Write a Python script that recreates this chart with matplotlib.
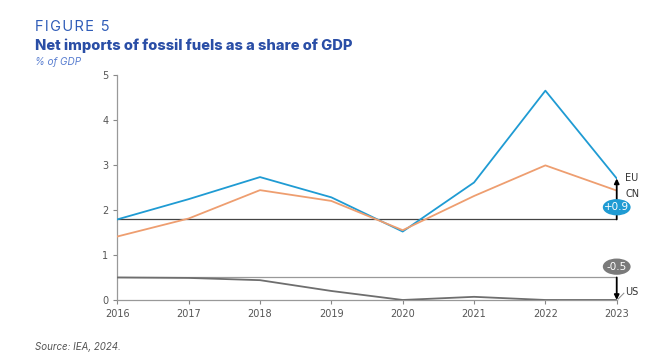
import matplotlib
matplotlib.use("Agg")
import matplotlib.pyplot as plt
from matplotlib.patches import Ellipse

years = [2016, 2017, 2018, 2019, 2020, 2021, 2022, 2023]
eu = [1.79, 2.24, 2.73, 2.28, 1.52, 2.61, 4.65, 2.70]
cn = [1.41, 1.81, 2.44, 2.20, 1.55, 2.31, 2.99, 2.43]
us = [0.50, 0.49, 0.44, 0.20, 0.00, 0.07, 0.00, 0.00]

eu_base = eu[0]
us_base = us[0]
eu_change = "+0.9"
us_change = "-0.5"

blue = "#1f9bd3"
orange = "#ee9e70"
grey = "#6e6e6e"
tick_col = "#555555"

fig = plt.figure(figsize=(6.54, 3.55), dpi=100)
ax = fig.add_axes([0.1794, 0.155, 0.7636, 0.634])

ax.plot(years, eu, color=blue, lw=1.3, zorder=3)
ax.plot(years, cn, color=orange, lw=1.3, zorder=3)
ax.plot(years, us, color=grey, lw=1.3, zorder=3)

# reference lines at 2016 levels
ax.plot([years[0], years[-1]], [eu_base, eu_base], color="#444444", lw=0.9, zorder=2)
ax.plot([years[0], years[-1]], [us_base, us_base], color="#999999", lw=0.9, zorder=2)

# change arrows at the last year
ax.annotate("", xy=(years[-1], eu[-1]), xytext=(years[-1], eu_base),
            arrowprops=dict(arrowstyle="-|>", color="black", lw=1.3,
                            mutation_scale=7, shrinkA=0, shrinkB=0), zorder=4)
ax.annotate("", xy=(years[-1], us[-1]), xytext=(years[-1], us_base),
            arrowprops=dict(arrowstyle="-|>", color="black", lw=1.3,
                            mutation_scale=7, shrinkA=0, shrinkB=0), zorder=4)

# bubbles with the change
ax.add_patch(Ellipse((years[-1], 2.06), 0.37, 0.33, color=blue, zorder=5, clip_on=False))
ax.text(years[-1], 2.06, eu_change, color="white", ha="center", va="center",
        fontsize=7.5, zorder=6)
ax.add_patch(Ellipse((years[-1], 0.74), 0.37, 0.33, color="#7a7a7a", zorder=5, clip_on=False))
ax.text(years[-1], 0.74, us_change, color="white", ha="center", va="center",
        fontsize=7.5, zorder=6)

# series labels
ax.text(years[-1] + 0.12, eu[-1], "EU", fontsize=7, color="#333333", va="center")
ax.text(years[-1] + 0.12, 2.36, "CN", fontsize=7, color="#333333", va="center")
ax.plot([years[-1] + 0.02, years[-1] + 0.1], [0.02, 0.15], color="#888888", lw=0.7,
        clip_on=False)
ax.text(years[-1] + 0.12, 0.17, "US", fontsize=7, color="#333333", va="center")

ax.set_xlim(years[0], years[-1])
ax.set_ylim(0, 5)
ax.set_xticks(years)
ax.set_yticks([0, 1, 2, 3, 4, 5])
ax.tick_params(colors="#888888", labelcolor=tick_col, labelsize=7, length=3, width=0.8)
for s in ["top", "right"]:
    ax.spines[s].set_visible(False)
for s in ["left", "bottom"]:
    ax.spines[s].set_color("#999999")
    ax.spines[s].set_linewidth(0.9)

hair = "\u200a"
fig.text(0.054, 0.913, hair.join("FIGURE 5"), fontsize=10.5, color="#2f5cb8",
         family=["Inter", "DejaVu Sans"], va="baseline")
fig.text(0.054, 0.859, "Net imports of fossil fuels as a share of GDP", fontsize=10.6,
         color="#2a4ea6", family="Inter", fontweight="heavy", va="baseline")
fig.text(0.054, 0.817, "% of GDP", fontsize=7.2, color="#5a7fd0", style="italic",
         family="Inter", va="baseline")
fig.text(0.054, 0.015, "Source: IEA, 2024.", fontsize=7, color="#555555", style="italic",
         family="Inter")

fig.savefig("out.png", dpi=100)
